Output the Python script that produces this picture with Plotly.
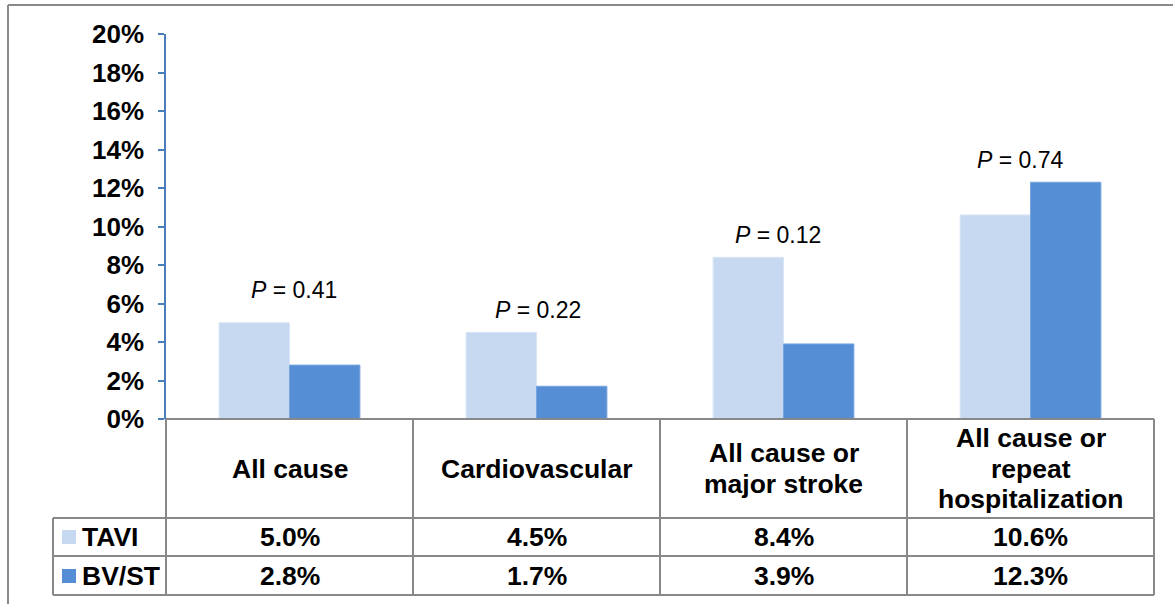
import plotly.graph_objects as go

# Outcome categories and event rates (%)
categories = ["All cause", "Cardiovascular", "All cause or major stroke",
              "All cause or repeat hospitalization"]
category_lines = [["All cause"], ["Cardiovascular"], ["All cause or", "major stroke"],
                  ["All cause or", "repeat", "hospitalization"]]
tavi = [5.0, 4.5, 8.4, 10.6]
bvst = [2.8, 1.7, 3.9, 12.3]
p_values = ["0.41", "0.22", "0.12", "0.74"]
p_label_y = [6.7, 5.66, 9.56, 13.45]
p_label_shift = [4, 1, -6, -10]
y_ticks = [0, 2, 4, 6, 8, 10, 12, 14, 16, 18, 20]

W, H = 1173, 604
L, R, T, B = 166, 19, 34, 185
PW, PH = W - L - R, H - T - B

FONT = "Arial, Liberation Sans, sans-serif"
LIGHT = "#C6D9F1"
DARK = "#558ED5"
GRID = "#888888"
LINE_STEP = 30.5


def px(x):
    return (x - L) / PW


def py(y):
    return (H - B - y) / PH


fig = go.Figure()
fig.add_trace(go.Bar(name="TAVI", x=categories, y=tavi,
                     marker=dict(color=LIGHT, line=dict(color="#D9E5F4", width=1))))
fig.add_trace(go.Bar(name="BV/ST", x=categories, y=bvst,
                     marker=dict(color=DARK, line=dict(color="#78A5E0", width=1))))

shapes = []


def hline(x0, x1, y, color=GRID, width=2):
    shapes.append(dict(type="line", xref="paper", yref="paper",
                       x0=px(x0), x1=px(x1), y0=py(y), y1=py(y),
                       line=dict(color=color, width=width)))


def vline(x, y0, y1, color=GRID, width=2):
    shapes.append(dict(type="line", xref="paper", yref="paper",
                       x0=px(x), x1=px(x), y0=py(y0), y1=py(y1),
                       line=dict(color=color, width=width)))


# outer frame (top and left edges)
hline(8, 1180, 5, color="#8a8a8a")
vline(8, 5, 610, color="#8a8a8a")

# data table grid
col_edges = [166, 413, 660, 907, 1154]
hline(166, 1154, 419)
for yy in (518, 556, 595):
    hline(53, 1154, yy)
for xx in col_edges:
    vline(xx, 419, 595)
vline(53, 518, 595)

# legend keys inside the table
for (y0, y1), c in zip([(530, 544), (569, 583)], [LIGHT, DARK]):
    shapes.append(dict(type="rect", xref="paper", yref="paper",
                       x0=px(62), x1=px(76), y0=py(y1), y1=py(y0),
                       fillcolor=c, line=dict(width=0)))

annotations = []
bold = dict(family=FONT, size=26.5, color="black")

for cat, lines, a, b in zip(categories, category_lines, tavi, bvst):
    n = len(lines)
    for i, line in enumerate(lines):
        offset = (i - (n - 1) / 2) * LINE_STEP
        annotations.append(dict(x=cat, xref="x", y=py(468.5), yref="paper",
                                yshift=-offset,
                                text=f"<b>{line}</b>", showarrow=False, font=bold,
                                xanchor="center", yanchor="middle"))
    annotations.append(dict(x=cat, xref="x", y=py(537), yref="paper",
                            text=f"<b>{a:.1f}%</b>", showarrow=False, font=bold,
                            xanchor="center", yanchor="middle"))
    annotations.append(dict(x=cat, xref="x", y=py(575.5), yref="paper",
                            text=f"<b>{b:.1f}%</b>", showarrow=False, font=bold,
                            xanchor="center", yanchor="middle"))

for name, yy in (("TAVI", 537), ("BV/ST", 575.5)):
    annotations.append(dict(x=px(80), xref="paper", y=py(yy), yref="paper",
                            text=f"<b>{name}</b>", showarrow=False, font=bold,
                            xanchor="left", yanchor="middle"))

for cat, p, yv, xs in zip(categories, p_values, p_label_y, p_label_shift):
    annotations.append(dict(x=cat, xref="x", y=yv, yref="y",
                            text=f"<i>P</i> = {p}", showarrow=False,
                            xshift=xs, font=dict(family=FONT, size=23, color="black"),
                            xanchor="center", yanchor="middle"))

fig.update_layout(
    width=W, height=H,
    margin=dict(l=L, r=R, t=T, b=B, pad=0),
    paper_bgcolor="white", plot_bgcolor="white",
    barmode="group", bargap=0.43, bargroupgap=0,
    showlegend=False,
    shapes=shapes, annotations=annotations,
    xaxis=dict(showticklabels=False, showgrid=False, zeroline=False,
               showline=False, ticks=""),
    yaxis=dict(range=[0, 20], tickvals=y_ticks,
               ticktext=[f"{v}%" for v in y_ticks],
               showgrid=False, zeroline=False,
               showline=True, linecolor="#4A7EBB", linewidth=1.5,
               ticks="outside", ticklen=6, tickcolor="#4A7EBB", tickwidth=1.5,
               ticklabelstandoff=9,
               tickfont=dict(family=FONT, size=26, color="black", weight="bold")),
)

fig.write_html("out.html")
